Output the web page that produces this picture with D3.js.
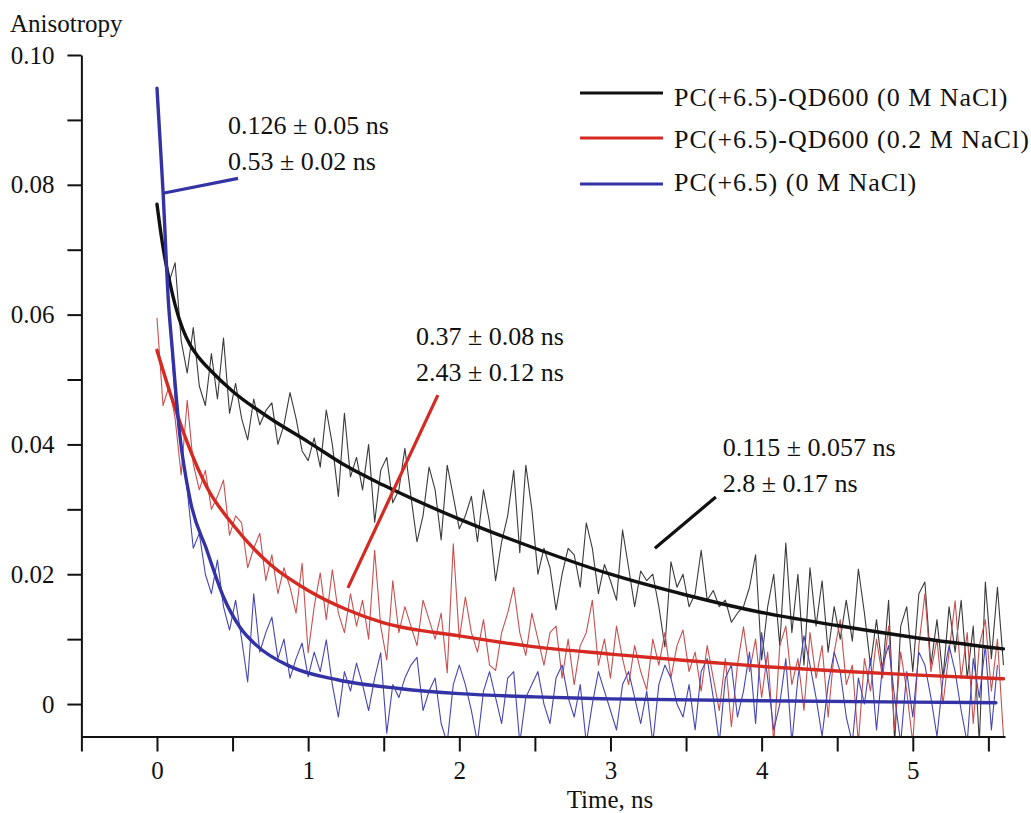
<!DOCTYPE html>
<html>
<head>
<meta charset="utf-8">
<script src="https://cdn.jsdelivr.net/npm/d3@7"></script>
<style>
  html, body { margin: 0; padding: 0; background: #fff; }
  svg { display: block; }
  text { font-family: "Liberation Serif", "Times New Roman", serif; fill: #111; }
</style>
</head>
<body>
<svg id="chart"></svg>
<script>
// chart - fluorescence anisotropy decays, PC(+6.5) with and without QD600

// ── Data ──────────────────────────────────────────────────────
// Measured traces sampled every 0.04 ns starting at t = 0
const SAMPLE_DT = 0.04;

const BLACK_DATA = [
  0.0772,0.0700,0.0650,0.0680,0.0560,0.0510,0.0580,0.0490,0.0460,0.0540,
  0.0470,0.0564,0.0448,0.0494,0.0440,0.0407,0.0470,0.0430,0.0452,0.0464,
  0.0400,0.0430,0.0480,0.0440,0.0390,0.0375,0.0410,0.0365,0.0453,0.0400,
  0.0320,0.0448,0.0350,0.0380,0.0330,0.0400,0.0280,0.0360,0.0380,0.0310,
  0.0330,0.0394,0.0320,0.0250,0.0290,0.0365,0.0330,0.0253,0.0368,0.0320,
  0.0270,0.0290,0.0320,0.0250,0.0330,0.0280,0.0190,0.0250,0.0290,0.0360,
  0.0233,0.0368,0.0300,0.0200,0.0240,0.0210,0.0145,0.0200,0.0240,0.0230,
  0.0180,0.0279,0.0240,0.0170,0.0215,0.0190,0.0160,0.0268,0.0210,0.0150,
  0.0205,0.0190,0.0200,0.0150,0.0088,0.0219,0.0180,0.0200,0.0150,0.0170,
  0.0237,0.0160,0.0175,0.0150,0.0160,0.0126,0.0140,0.0150,0.0180,0.0230,
  0.0068,0.0150,0.0200,0.0090,0.0248,0.0110,0.0200,0.0060,0.0210,0.0120,
  0.0190,0.0080,0.0150,0.0100,0.0160,0.0097,0.0208,0.0140,0.0060,0.0130,
  0.0050,0.0160,-0.0060,0.0120,0.0150,0.0050,0.0170,0.0188,0.0060,0.0130,
  0.0040,0.0150,0.0080,0.0160,0.0040,0.0120,-0.0060,0.0188,0.0070,0.0180,
  0.0060
];

const RED_DATA = [
  0.0595,0.0460,0.0490,0.0440,0.0353,0.0468,0.0370,0.0330,0.0360,0.0300,
  0.0320,0.0345,0.0260,0.0290,0.0279,0.0210,0.0240,0.0263,0.0190,0.0230,
  0.0170,0.0210,0.0180,0.0140,0.0217,0.0079,0.0150,0.0202,0.0130,0.0207,
  0.0140,0.0110,0.0170,0.0120,0.0160,0.0100,0.0237,0.0120,0.0068,0.0190,
  0.0110,0.0150,0.0120,0.0090,0.0160,0.0130,0.0100,0.0140,0.0048,0.0247,
  0.0100,0.0165,0.0110,0.0080,0.0130,0.0060,0.0052,0.0110,0.0140,0.0180,
  0.0110,0.0075,0.0140,0.0100,0.0060,0.0110,0.0120,0.0040,0.0100,0.0030,
  0.0090,0.0110,0.0160,0.0060,0.0100,0.0040,0.0120,0.0070,0.0030,0.0090,
  0.0050,0.0022,0.0100,0.0060,0.0110,0.0040,0.0090,0.0114,0.0050,0.0080,
  0.0020,0.0090,0.0040,-0.0010,0.0070,-0.0035,0.0060,0.0119,0.0050,0.0100,
  0.0010,0.0080,-0.0060,0.0090,0.0120,0.0030,0.0070,-0.0010,0.0110,0.0040,
  0.0090,-0.0020,0.0080,0.0130,0.0030,0.0060,-0.0060,0.0070,0.0020,0.0100,
  0.0040,0.0120,-0.0040,0.0080,0.0020,-0.0060,0.0090,0.0170,0.0050,0.0100,
  0.0000,0.0080,0.0159,0.0040,0.0110,-0.0030,0.0090,0.0130,0.0020,0.0100,
  -0.0050
];

const BLUE_DATA = [
  0.0949,0.0780,0.0600,0.0470,0.0390,0.0330,0.0240,0.0263,0.0200,0.0170,
  0.0222,0.0150,0.0114,0.0160,0.0100,0.0034,0.0170,0.0080,0.0110,0.0134,
  0.0070,0.0100,0.0040,0.0070,0.0094,0.0042,0.0080,0.0050,0.0099,0.0030,
  -0.0020,0.0050,0.0020,0.0063,0.0030,-0.0010,0.0040,0.0079,-0.0045,0.0030,
  0.0010,0.0040,0.0060,0.0072,-0.0010,0.0020,0.0040,-0.0030,-0.0060,0.0030,
  0.0060,0.0030,-0.0010,-0.0060,0.0020,0.0050,0.0010,-0.0030,0.0040,0.0050,
  -0.0060,0.0010,0.0030,0.0050,0.0000,-0.0030,0.0040,0.0060,0.0010,-0.0020,
  0.0030,-0.0060,0.0000,0.0050,0.0020,-0.0010,-0.0040,0.0030,0.0050,0.0010,
  -0.0030,0.0020,-0.0060,0.0030,0.0060,0.0040,0.0000,-0.0020,0.0030,-0.0040,
  0.0050,0.0070,0.0010,-0.0060,0.0040,0.0060,-0.0020,0.0020,0.0080,-0.0030,
  0.0110,0.0040,-0.0040,0.0000,0.0070,-0.0060,0.0040,0.0105,0.0060,0.0010,
  -0.0050,0.0030,0.0080,0.0050,-0.0020,-0.0060,0.0040,0.0000,0.0070,-0.0040,
  0.0060,0.0090,0.0010,-0.0060,0.0050,-0.0020,0.0080,0.0060,0.0010,-0.0050,
  0.0040,0.0090,0.0050,-0.0010,-0.0060,0.0070,0.0010,0.0090,-0.0040,0.0060
];

// Fitted decay curves, [time ns, anisotropy]
const BLACK_FIT = [
  [0,0.0770],[0.02,0.0735],[0.05,0.0690],[0.08,0.0655],[0.12,0.0615],[0.17,0.0578],
  [0.22,0.0553],[0.28,0.0533],[0.35,0.0515],[0.5,0.0482],[0.75,0.0440],[1.0,0.0404],
  [1.25,0.0367],[1.5,0.0337],[2.0,0.0285],[2.5,0.0240],[3.0,0.0200],[3.5,0.0168],
  [4.0,0.0141],[4.5,0.0121],[5.0,0.0103],[5.6,0.0085]
];
const RED_FIT = [
  [0,0.0545],[0.1,0.0470],[0.2,0.0403],[0.33,0.0334],[0.5,0.0277],[0.75,0.0215],
  [1.0,0.0175],[1.25,0.0146],[1.5,0.0125],[2.0,0.0105],[2.5,0.0088],[3.0,0.0077],
  [3.5,0.0067],[4.0,0.0058],[4.5,0.0051],[5.0,0.0045],[5.6,0.0039]
];
const BLUE_FIT = [
  [0,0.0949],[0.02,0.0870],[0.04,0.0790],[0.075,0.0622],[0.1,0.0550],[0.15,0.0417],
  [0.22,0.0314],[0.33,0.0237],[0.44,0.0165],[0.55,0.0118],[0.66,0.0090],[0.88,0.0058],
  [1.2,0.0037],[1.6,0.0024],[2.0,0.0016],[2.5,0.0011],[3.0,0.0008],[4.0,0.0005],
  [5.0,0.0003],[5.55,0.0002]
];

const SERIES_NAMES = [
  "PC(+6.5)-QD600 (0 M NaCl)",
  "PC(+6.5)-QD600 (0.2 M NaCl)",
  "PC(+6.5) (0 M NaCl)"
];

// Lifetime labels and their leader lines, in data units
// order: blue (free PC), red (0.2 M NaCl), black (0 M NaCl)
const LABEL_LINES = [
  ["0.126 \u00b1 0.05 ns", "0.53 \u00b1 0.02 ns"],
  ["0.37 \u00b1 0.08 ns", "2.43 \u00b1 0.12 ns"],
  ["0.115 \u00b1 0.057 ns", "2.8 \u00b1 0.17 ns"]
];
const LABEL_ANCHORS = [[0.47, 0.0878], [1.713, 0.0553], [3.743, 0.0382]];
const LEADERS = [
  [[0.04, 0.0787], [0.536, 0.0810]],
  [[1.263, 0.0179], [1.858, 0.0476]],
  [[3.294, 0.0240], [3.697, 0.0319]]
];

const X_TICKS = [-0.5,0,0.5,1,1.5,2,2.5,3,3.5,4,4.5,5,5.5];
const Y_TICKS = [0,0.01,0.02,0.03,0.04,0.05,0.06,0.07,0.08,0.09,0.10];
const Y_LABELS = { 0: "0", 0.02: "0.02", 0.04: "0.04", 0.06: "0.06", 0.08: "0.08", 0.1: "0.10" };

// ── Styles ────────────────────────────────────────────────────
const FIT_COLORS    = ["#111111", "#d42a22", "#3333a6"];
const DATA_COLORS   = ["#3a3a3a", "#c95050", "#4545b5"];
const LEADER_COLORS = ["#3333a6", "#d42a22", "#111111"];

// ── Layout ────────────────────────────────────────────────────
const W = 1031, H = 813;
const svg = d3.select("#chart").attr("width", W).attr("height", H);
svg.append("rect").attr("width", W).attr("height", H).attr("fill", "#fff");

const xs = d3.scaleLinear().domain([-0.5, 5.61]).range([81.4, 1005]);
const ys = d3.scaleLinear().domain([-0.005, 0.10]).range([736.5, 55]);

svg.append("clipPath").attr("id", "plot-clip")
  .append("rect")
  .attr("x", xs(-0.5)).attr("y", 40)
  .attr("width", xs(5.61) - xs(-0.5)).attr("height", ys(-0.005) - 40);

const plot = svg.append("g").attr("clip-path", "url(#plot-clip)");

// ── Noisy measured traces ─────────────────────────────────────
const dataLine = d3.line()
  .x((d, i) => xs(i * SAMPLE_DT))
  .y(d => ys(d));

[BLACK_DATA, RED_DATA, BLUE_DATA].forEach((arr, k) => {
  plot.append("path")
    .attr("d", dataLine(arr))
    .attr("fill", "none")
    .attr("stroke", DATA_COLORS[k])
    .attr("stroke-width", 1.1)
    .attr("stroke-linejoin", "round");
});

// ── Fit curves ────────────────────────────────────────────────
const fitLine = d3.line()
  .x(d => xs(d[0]))
  .y(d => ys(d[1]))
  .curve(d3.curveMonotoneX);

[BLACK_FIT, RED_FIT, BLUE_FIT].forEach((arr, k) => {
  plot.append("path")
    .attr("d", fitLine(arr))
    .attr("fill", "none")
    .attr("stroke", FIT_COLORS[k])
    .attr("stroke-width", 3.4)
    .attr("stroke-linecap", "round");
});

// ── Axes ──────────────────────────────────────────────────────
const yAxis = svg.append("g")
  .attr("transform", `translate(${xs(-0.5)},0)`)
  .call(d3.axisLeft(ys).tickValues(Y_TICKS).tickSize(14).tickSizeOuter(0).tickPadding(13)
    .tickFormat(d => Y_LABELS[+d.toFixed(2)] || ""));

const xAxis = svg.append("g")
  .attr("transform", `translate(0,${ys(-0.005)})`)
  .call(d3.axisBottom(xs).tickValues(X_TICKS).tickSize(15).tickSizeOuter(0).tickPadding(10)
    .tickFormat(d => Number.isInteger(d) && d >= 0 ? String(d) : ""));

[yAxis, xAxis].forEach(ax => {
  ax.select(".domain").attr("stroke", "#111").attr("stroke-width", 2);
  ax.selectAll(".tick line").attr("stroke", "#111").attr("stroke-width", 2);
  ax.selectAll(".tick text")
    .attr("fill", "#111")
    .attr("font-size", "25px")
    .attr("font-family", "Liberation Serif, serif");
});

svg.append("text")
  .attr("x", 10).attr("y", 32)
  .attr("font-size", "25px")
  .text("Anisotropy");

svg.append("text")
  .attr("x", 610).attr("y", 808)
  .attr("text-anchor", "middle")
  .attr("font-size", "25px")
  .text("Time, ns");

// ── Lifetime annotations ──────────────────────────────────────
LEADERS.forEach((seg, k) => {
  svg.append("line")
    .attr("x1", xs(seg[0][0])).attr("y1", ys(seg[0][1]))
    .attr("x2", xs(seg[1][0])).attr("y2", ys(seg[1][1]))
    .attr("stroke", LEADER_COLORS[k])
    .attr("stroke-width", 3.2);
});

LABEL_LINES.forEach((lines, k) => {
  const t = svg.append("text")
    .attr("x", xs(LABEL_ANCHORS[k][0]))
    .attr("y", ys(LABEL_ANCHORS[k][1]))
    .attr("font-size", "26px");
  lines.forEach((s, j) => {
    t.append("tspan")
      .attr("x", xs(LABEL_ANCHORS[k][0]))
      .attr("dy", j === 0 ? 0 : 36)
      .text(s);
  });
});

// ── Legend ────────────────────────────────────────────────────
const LEGEND_LINE_Y = [93, 138, 184];
const LEGEND_TEXT_Y = [106, 148, 191];
SERIES_NAMES.forEach((name, k) => {
  svg.append("line")
    .attr("x1", 580).attr("x2", 663)
    .attr("y1", LEGEND_LINE_Y[k]).attr("y2", LEGEND_LINE_Y[k])
    .attr("stroke", FIT_COLORS[k])
    .attr("stroke-width", 3.2);
  svg.append("text")
    .attr("x", 674).attr("y", LEGEND_TEXT_Y[k])
    .attr("font-size", "26px")
    .attr("letter-spacing", "1px")
    .text(name);
});
</script>
</body>
</html>
